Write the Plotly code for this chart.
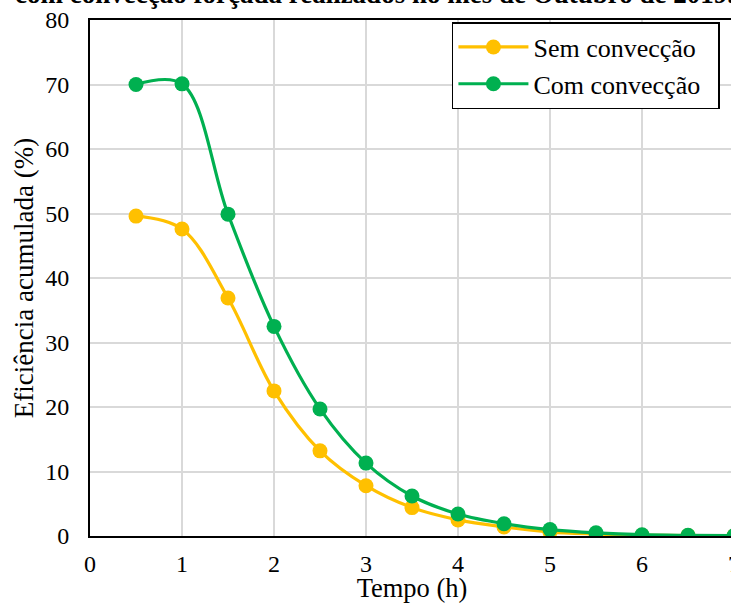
import plotly.graph_objects as go

tempo = [0.5, 1, 1.5, 2, 2.5, 3, 3.5, 4, 4.5, 5, 5.5, 6, 6.5, 7]
sem_conveccao = [49.6, 47.6, 36.9, 22.5, 13.2, 7.8, 4.4, 2.5, 1.4, 0.6, 0.3, 0.12, 0.06, 0.03]
com_conveccao = [70.0, 70.1, 49.9, 32.5, 19.7, 11.3, 6.2, 3.4, 1.9, 1.0, 0.5, 0.2, 0.1, 0.05]
series_names = ["Sem convecção", "Com convecção"]
x_ticks = [0, 1, 2, 3, 4, 5, 6, 7]
y_ticks = [0, 10, 20, 30, 40, 50, 60, 70, 80]

FONT = "Liberation Serif, Times New Roman, serif"
PAD = "\u00a0\u00a0"

fig = go.Figure()
fig.add_trace(go.Scatter(
    x=tempo, y=sem_conveccao, name=series_names[0] + PAD, mode="lines+markers",
    line=dict(color="#FFC000", width=3.2, shape="spline", smoothing=1.0),
    marker=dict(color="#FFC000", size=15),
))
fig.add_trace(go.Scatter(
    x=tempo, y=com_conveccao, name=series_names[1] + PAD, mode="lines+markers",
    line=dict(color="#00B050", width=3.2, shape="spline", smoothing=1.0),
    marker=dict(color="#00B050", size=15),
))

fig.update_layout(
    width=750, height=603,
    margin=dict(l=90, r=16, t=20, b=67),
    paper_bgcolor="white", plot_bgcolor="white",
    font=dict(family=FONT, size=24, color="black"),
    showlegend=True,
    legend=dict(
        x=0.562, y=0.996, xanchor="left", yanchor="top",
        bordercolor="black", borderwidth=1.5, bgcolor="white",
        font=dict(family=FONT, size=26), tracegroupgap=0,
        itemwidth=70,
    ),
    xaxis=dict(
        range=[0, 7], tickvals=x_ticks, showgrid=True, gridcolor="#D9D9D9", gridwidth=1.5,
        showline=True, linecolor="black", linewidth=2, mirror=True,
        ticks="", ticklabelstandoff=5, zeroline=False, automargin=False,
        title=dict(text="Tempo (h)", font=dict(family=FONT, size=26.5), standoff=11),
        tickfont=dict(family=FONT, size=24),
    ),
    yaxis=dict(
        range=[0, 80], tickvals=y_ticks, showgrid=True, gridcolor="#D9D9D9", gridwidth=1.5,
        showline=True, linecolor="black", linewidth=2, mirror=True,
        ticks="", ticklabelstandoff=14, zeroline=False, automargin=False,
        title=dict(text="Eficiência acumulada (%)", font=dict(family=FONT, size=27), standoff=4),
        tickfont=dict(family=FONT, size=24),
    ),
)

fig.add_annotation(
    text="com convecção forçada realizados no mês de Outubro de 2019.",
    xref="paper", yref="paper", x=-0.12, y=1, xanchor="left", yanchor="bottom",
    yshift=9, showarrow=False,
    font=dict(family=FONT, size=27, color="black", weight="bold"),
)

fig.write_html("out.html", post_script="document.body.style.overflow='hidden';document.documentElement.style.overflow='hidden';")
